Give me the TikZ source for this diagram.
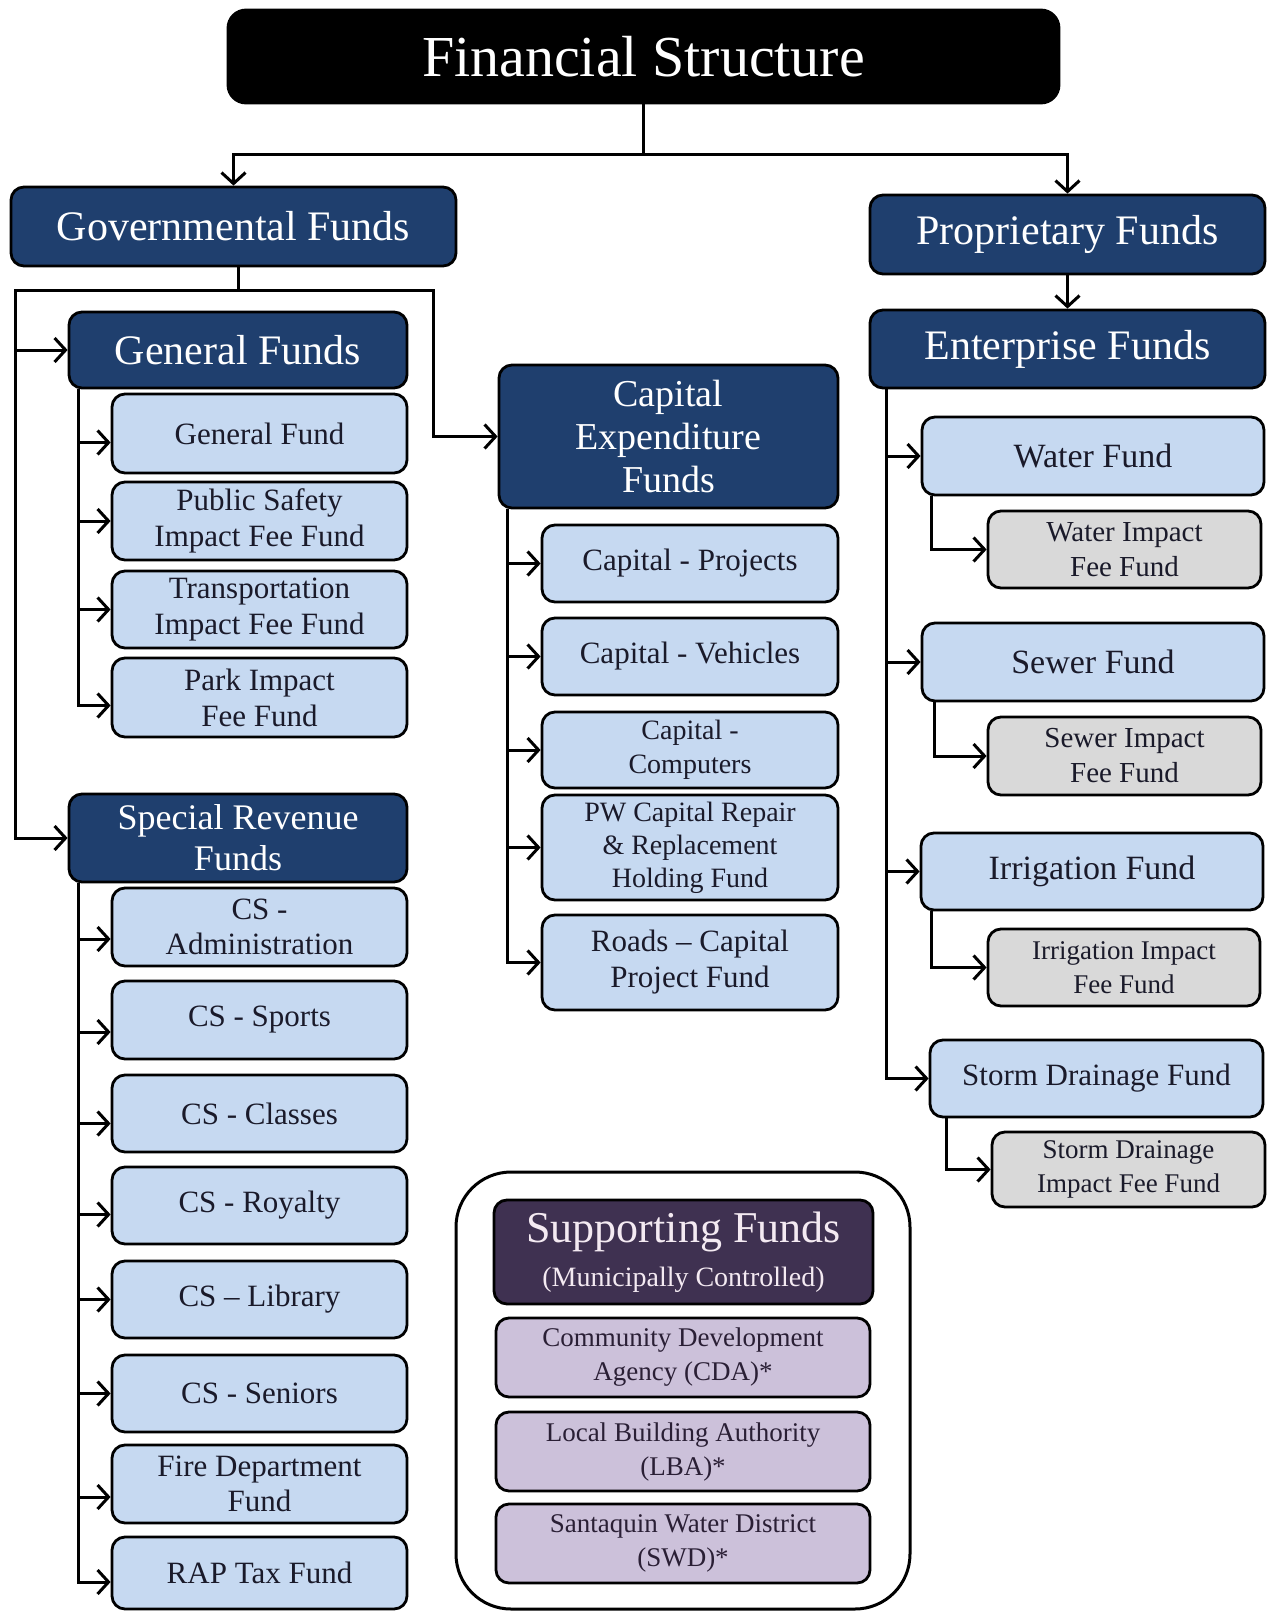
\documentclass[tikz,border=0pt]{standalone}
\usepackage{fontspec}
\setmainfont{Liberation Serif}
\usetikzlibrary{arrows.meta,calc}
\definecolor{navy}{HTML}{1F3F6E}
\definecolor{lblue}{HTML}{C6D9F1}
\definecolor{lgray}{HTML}{D9D9D9}
\definecolor{dpurp}{HTML}{3F3151}
\definecolor{lpurp}{HTML}{CCC1DA}
\definecolor{txt}{HTML}{1A1A2A}
\definecolor{ptxt}{HTML}{2A1F35}
\definecolor{pwhite}{HTML}{F4EAF2}
\newcommand\Bx[7]{%
  \pgfmathsetmacro\bcx{(#3+#5)/2}\pgfmathsetmacro\bcy{(#4+#6)/2}%
  \pgfmathsetmacro\bbw{#5-#3}\pgfmathsetmacro\bbh{#6-#4}%
  \node[#1, minimum width=\bbw pt, minimum height=\bbh pt] (#2) at (\bcx,\bcy) {#7};}
\begin{document}
\begin{tikzpicture}[x=1pt,y=-1pt,
  box/.style={draw=black, line width=2.8pt, rounded corners=13pt, inner sep=0pt, align=center},
  titlebox/.style={box, fill=black, text=white, rounded corners=18pt, font=\fontsize{58}{60}\selectfont},
  hdr/.style={box, fill=navy, text=white, font=\fontsize{42}{46}\selectfont},
  sub/.style={box, fill=lblue, text=txt, font=\fontsize{31}{36}\selectfont},
  imp/.style={box, fill=lgray, text=txt, font=\fontsize{29}{35}\selectfont},
  phdr/.style={box, fill=dpurp, text=pwhite, font=\fontsize{44}{44}\selectfont},
  pbox/.style={box, fill=lpurp, text=ptxt, font=\fontsize{27}{34}\selectfont},
  outer/.style={draw=black, line width=3pt, rounded corners=55pt, inner sep=0pt},
  conn/.style={line width=3pt, draw=black},
  arr/.style={conn, -{Straight Barb[length=11pt,width=24pt,line width=3pt]}}]
\useasboundingbox (0,0) rectangle (1270,1612);
% top
\Bx{titlebox}{title}{228}{10}{1059}{103}{Financial Structure}
\Bx{hdr}{gov}{11}{187}{456}{266}{Governmental Funds}
\Bx{hdr}{prop}{870}{195}{1265}{274}{Proprietary Funds}
\Bx{hdr}{ent}{870}{310}{1265}{388}{Enterprise Funds}
% general
\Bx{hdr}{genf}{69}{312}{407}{388}{General Funds}
\Bx{sub}{gf1}{112}{394}{407}{473}{General Fund}
\Bx{sub}{gf2}{112}{482}{407}{560}{Public Safety\\Impact Fee Fund}
\Bx{sub}{gf3}{112}{571}{407}{648}{Transportation\\Impact Fee Fund}
\Bx{sub}{gf4}{112}{658}{407}{737}{Park Impact\\Fee Fund}
% capital
\Bx{hdr,font=\fontsize{38}{43}\selectfont}{capx}{499}{365}{838}{508}{Capital\\Expenditure\\Funds}
\Bx{sub}{cp1}{542}{525}{838}{602}{Capital - Projects}
\Bx{sub}{cp2}{542}{618}{838}{695}{Capital - Vehicles}
\Bx{sub,font=\fontsize{28}{34}\selectfont}{cp3}{542}{712}{838}{788}{Capital -\\Computers}
\Bx{sub,font=\fontsize{28}{33}\selectfont}{cp4}{542}{795}{838}{900}{PW Capital Repair\\\& Replacement\\Holding Fund}
\Bx{sub}{cp5}{542}{915}{838}{1010}{Roads – Capital\\Project Fund}
% enterprise
\Bx{sub,font=\fontsize{34}{38}\selectfont}{water}{922}{417}{1264}{495}{Water Fund}
\Bx{imp}{wimp}{988}{511}{1261}{588}{Water Impact\\Fee Fund}
\Bx{sub,font=\fontsize{34}{38}\selectfont}{sewer}{922}{623}{1264}{701}{Sewer Fund}
\Bx{imp}{simp}{988}{717}{1261}{795}{Sewer Impact\\Fee Fund}
\Bx{sub,font=\fontsize{34}{38}\selectfont}{irr}{921}{833}{1263}{910}{Irrigation Fund}
\Bx{imp,font=\fontsize{27}{34}\selectfont}{iimp}{988}{929}{1260}{1006}{Irrigation Impact\\Fee Fund}
\Bx{sub}{storm}{930}{1040}{1263}{1117}{Storm Drainage Fund}
\Bx{imp,font=\fontsize{27}{34}\selectfont}{stimp}{992}{1132}{1265}{1207}{Storm Drainage\\Impact Fee Fund}
% special revenue
\Bx{hdr,font=\fontsize{36}{41}\selectfont}{spec}{69}{794}{407}{882}{Special Revenue\\Funds}
\Bx{sub,font=\fontsize{31}{35}\selectfont}{s1}{112}{888}{407}{966}{CS -\\Administration}
\Bx{sub}{s2}{112}{981}{407}{1059}{CS - Sports}
\Bx{sub}{s3}{112}{1075}{407}{1152}{CS - Classes}
\Bx{sub}{s4}{112}{1167}{407}{1244}{CS - Royalty}
\Bx{sub}{s5}{112}{1261}{407}{1338}{CS – Library}
\Bx{sub}{s6}{112}{1355}{407}{1432}{CS - Seniors}
\Bx{sub,font=\fontsize{31}{35}\selectfont}{s7}{112}{1445}{407}{1523}{Fire Department\\Fund}
\Bx{sub}{s8}{112}{1537}{407}{1609}{RAP Tax Fund}
% supporting
\Bx{outer}{supp}{456}{1172}{910}{1609}{}
\Bx{phdr}{sh}{494}{1200}{873}{1304}{Supporting Funds\\{\fontsize{28}{30}\selectfont(Municipally Controlled)}}
\Bx{pbox}{c1}{496}{1318}{870}{1397}{Community Development\\Agency (CDA)*}
\Bx{pbox}{c2}{496}{1412}{870}{1491}{Local Building Authority\\(LBA)*}
\Bx{pbox}{c3}{496}{1504}{870}{1583}{Santaquin Water District\\(SWD)*}
% connectors top
\draw[conn] (title.south) -- ++(0,50) coordinate (tj);
\draw[arr] (tj) -| (gov.north);
\draw[arr] (tj) -| (prop.north);
\draw[arr] (prop.south) -- (ent.north);
% governmental branches
\coordinate (gL) at (15,290);
\coordinate (gR) at (433,290);
\draw[arr] ([xshift=5pt]gov.south) |- (gL) |- (genf.west);
\draw[arr] (gL) |- (spec.west);
\draw[arr] ([xshift=5pt]gov.south) |- (gR) |- (capx.west);
% general subs
\draw[arr] ([xshift=11pt]genf.south west) |- ([yshift=-9pt]gf1.west);
\draw[arr] ([xshift=11pt]genf.south west) |- (gf2.west);
\draw[arr] ([xshift=11pt]genf.south west) |- (gf3.west);
\draw[arr] ([xshift=11pt]genf.south west) |- ([yshift=-8pt]gf4.west);
% capital subs
\foreach \n in {cp1,cp2,cp3,cp4,cp5}
  \draw[arr] ([xshift=10pt]capx.south west) |- (\n.west);
% special revenue subs
\draw[arr] ([xshift=11pt]spec.south west) |- ([yshift=-12pt]s1.west);
\draw[arr] ([xshift=11pt]spec.south west) |- ([yshift=-12pt]s2.west);
\draw[arr] ([xshift=11pt]spec.south west) |- ([yshift=-10pt]s3.west);
\draw[arr] ([xshift=11pt]spec.south west) |- ([yshift=-9pt]s4.west);
\draw[arr] ([xshift=11pt]spec.south west) |- (s5.west);
\draw[arr] ([xshift=11pt]spec.south west) |- (s6.west);
\draw[arr] ([xshift=11pt]spec.south west) |- ([yshift=-13pt]s7.west);
\draw[arr] ([xshift=11pt]spec.south west) |- ([yshift=-9pt]s8.west);
% enterprise subs
\foreach \n in {water,sewer,irr,storm}
  \draw[arr] ([xshift=18pt]ent.south west) |- (\n.west);
\draw[arr] ([xshift=11pt]water.south west) |- (wimp.west);
\draw[arr] ([xshift=14pt]sewer.south west) |- (simp.west);
\draw[arr] ([xshift=12pt]irr.south west) |- (iimp.west);
\draw[arr] ([xshift=18pt]storm.south west) |- (stimp.west);
\end{tikzpicture}
\end{document}
